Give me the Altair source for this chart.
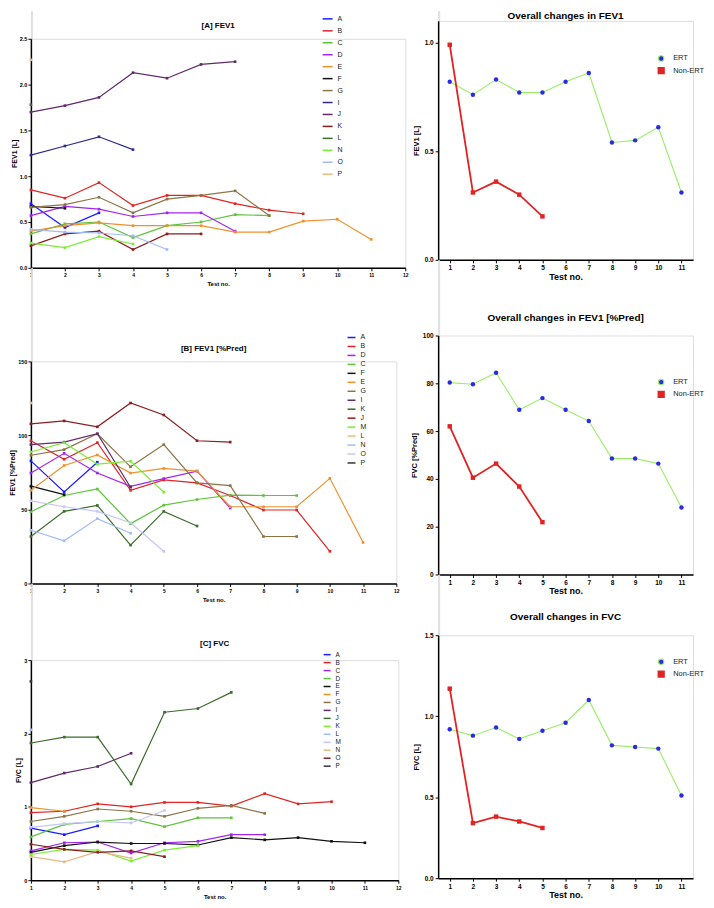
import altair as alt
import pandas as pd

FONT = "Liberation Sans"

# ---------------- colours ----------------
BLUE = "#1a1aff"; RED = "#e02424"; VIOLET = "#a224f0"; GREEN = "#5dc43c"
ORANGE = "#f0912c"; BLACK = "#111111"; BROWN = "#8e7344"; NAVY = "#2c2c8e"
DPURPLE = "#5f2b68"; DRED = "#8c1d1d"; DGREEN = "#3b6c2b"; BGREEN = "#7aee35"
LBLUE = "#9fbcf6"; LAVENDER = "#c6c6fb"; TAN = "#e8b983"; DGRAY = "#333333"
ERT_LINE = "#99ee66"; ERT_DOT = "#2a2ae6"

# ---------------- [A] FEV1 [L] ----------------
A_order = ["A", "B", "C", "D", "E", "F", "G", "I", "J", "K", "L", "N", "O", "P"]
A_colors = [BLUE, RED, GREEN, VIOLET, ORANGE, BLACK, BROWN, NAVY, DPURPLE, DRED, DGREEN, BGREEN, LBLUE, TAN]
A_vals = {
    "A": [0.70, 0.44, 0.60],
    "B": [0.85, 0.76, 0.93, 0.68, 0.79, 0.79, 0.70, 0.63, 0.59],
    "C": [0.37, 0.48, 0.50, 0.33, 0.46, 0.50, 0.58, 0.57],
    "D": [0.57, 0.67, 0.64, 0.56, 0.60, 0.60, 0.40],
    "E": [0.40, 0.46, 0.49, 0.46, 0.46, 0.46, 0.39, 0.39, 0.51, 0.53, 0.31],
    "F": [0.67, 0.65],
    "G": [0.66, 0.69, 0.77, 0.60, 0.75, 0.79, 0.84, 0.57],
    "I": [1.23, 1.33, 1.43, 1.29],
    "J": [1.70, 1.77, 1.86, 2.13, 2.07, 2.22, 2.25],
    "K": [0.24, 0.37, 0.40, 0.20, 0.37, 0.37],
    "L": [1.78],
    "N": [0.27, 0.22, 0.34, 0.26],
    "O": [0.42, 0.39, 0.38, 0.35, 0.20],
    "P": [2.27],
}

# ---------------- [B] FEV1 [%Pred] ----------------
B_order = ["A", "B", "D", "C", "F", "E", "G", "I", "K", "J", "M", "L", "N", "O", "P"]
B_colors = [BLUE, RED, VIOLET, GREEN, BLACK, ORANGE, BROWN, DPURPLE, DGREEN, DRED, BGREEN, TAN, LBLUE, LAVENDER, DGRAY]
B_vals = {
    "A": [82.8, 61.8, 81.9],
    "B": [96.4, 83.9, 95.1, 62.9, 69.9, 67.9, 59.4, 49.6, 49.6, 21.7],
    "D": [74.6, 87.9, 74.6, 65.6, 70.8, 75.9, 50.9],
    "C": [48.4, 59.4, 63.8, 40.4, 52.9, 56.7, 59.6, 59.4, 59.4],
    "F": [65.7, 60.0],
    "E": [62.9, 79.7, 86.8, 74.6, 77.7, 75.9, 51.8, 51.8, 51.8, 71.0, 27.7],
    "G": [86.6, 90.4, 101.1, 78.8, 93.8, 67.9, 66.1, 31.7, 31.7],
    "I": [93.8, 95.5, 101.1, 65.0],
    "K": [31.7, 48.7, 52.7, 25.9, 48.7, 38.8],
    "J": [107.8, 109.8, 105.8, 121.9, 113.8, 96.4, 95.5],
    "M": [88.8, 95.1, 80.6, 82.6, 61.6],
    "L": [121.9],
    "N": [35.9, 28.8, 43.8, 33.9],
    "O": [55.8, 51.8, 48.7, 41.0, 21.7],
    "P": [],
}

# ---------------- [C] FVC [L] ----------------
C_order = ["A", "B", "C", "D", "E", "F", "G", "I", "J", "K", "L", "M", "N", "O", "P"]
C_colors = [BLUE, RED, VIOLET, GREEN, BLACK, ORANGE, BROWN, DPURPLE, DGREEN, BGREEN, LBLUE, LAVENDER, TAN, DRED, DGRAY]
C_vals = {
    "A": [0.71, 0.62, 0.74],
    "B": [0.92, 0.94, 1.04, 1.00, 1.06, 1.06, 1.01, 1.18, 1.04, 1.07],
    "C": [0.40, 0.51, 0.52, 0.37, 0.51, 0.53, 0.62, 0.62],
    "D": [0.59, 0.76, 0.80, 0.84, 0.73, 0.85, 0.85],
    "E": [0.38, 0.47, 0.52, 0.50, 0.50, 0.48, 0.58, 0.55, 0.58, 0.53, 0.51],
    "F": [0.99, 0.94],
    "G": [0.80, 0.87, 0.97, 0.94, 0.87, 0.98, 1.02, 0.91],
    "I": [1.33, 1.46, 1.55, 1.73],
    "J": [1.87, 1.95, 1.95, 1.31, 2.29, 2.34, 2.56],
    "K": [0.35, 0.42, 0.41, 0.26, 0.41, 0.47],
    "L": [2.05],
    "M": [0.72, 0.77, 0.80, 0.78, 0.95],
    "N": [0.32, 0.25, 0.39, 0.30],
    "O": [0.49, 0.42, 0.38, 0.40, 0.32],
    "P": [2.71],
}

# ---------------- overall changes ----------------
groups = ["ERT", "Non-ERT"]
fev1_ert = [0.82, 0.76, 0.83, 0.77, 0.77, 0.82, 0.86, 0.54, 0.55, 0.61, 0.31]
fev1_non = [0.99, 0.31, 0.36, 0.30, 0.20]
pred_ert = [80.3, 79.6, 84.4, 68.9, 73.8, 68.9, 64.2, 48.5, 48.5, 46.4, 28.0]
pred_non = [62.0, 40.5, 46.4, 36.8, 21.9]
fvc_ert = [0.92, 0.88, 0.93, 0.86, 0.91, 0.96, 1.10, 0.82, 0.81, 0.80, 0.51]
fvc_non = [1.17, 0.34, 0.38, 0.35, 0.31]


def spacer(h, w=1):
    return alt.Chart(pd.DataFrame({"s": [0]})).mark_point(opacity=0, size=1).encode(
        x=alt.value(0), y=alt.value(0)
    ).properties(width=w, height=h)


def left_panel(vals, order, colors, title, ytitle, ydom, yticks, yfmt, w, h,
               lx, ly, rowpad, symsize, labsize, toff):
    rows = [{"series": s, "test": i + 1, "value": v}
            for s in order for i, v in enumerate(vals.get(s, []))]
    df = pd.DataFrame(rows)
    legend = alt.Legend(title=None, orient="none", legendX=lx, legendY=ly,
                        symbolType="stroke", symbolSize=symsize, symbolStrokeWidth=1.5,
                        labelFontSize=labsize, labelFont=FONT, labelColor="#222222",
                        rowPadding=rowpad, labelOffset=4, padding=0)
    color = alt.Color("series:N", scale=alt.Scale(domain=order, range=colors),
                      legend=legend, sort=order)
    x = alt.X("test:Q", scale=alt.Scale(domain=[1, 12], nice=False, zero=False),
              axis=alt.Axis(values=list(range(1, 13)), format="d", title="Test no.",
                            titleFontSize=6, titleFont=FONT, titleFontWeight="bold",
                            labelFontSize=5, labelFont=FONT, labelFontWeight="bold",
                            tickSize=3, titlePadding=3, labelPadding=2,
                            domainColor="black", tickColor="black", domainWidth=1.5,
                            grid=False, labelColor="black", titleColor="black",
                            labelFlush=False))
    y = alt.Y("value:Q", scale=alt.Scale(domain=ydom, nice=False, zero=True),
              axis=alt.Axis(values=yticks, format=yfmt, title=ytitle,
                            titleFontSize=7, titleFont=FONT, titleFontWeight="bold",
                            labelFontSize=5.5, labelFont=FONT, labelFontWeight="bold",
                            tickSize=3, titlePadding=2, labelPadding=1,
                            domainColor="black", tickColor="black", domainWidth=1.5,
                            grid=False, labelColor="black", titleColor="black",
                            labelFlush=False))
    base = alt.Chart(df).encode(x=x, y=y, color=color, order="test:Q")
    lines = base.mark_line(strokeWidth=1.2)
    pts = base.mark_point(filled=True, shape="square", size=7, opacity=1)
    return alt.layer(lines, pts).properties(
        width=w, height=h,
        title=alt.TitleParams(title, fontSize=8, font=FONT, fontWeight="bold",
                              anchor="middle", offset=toff, color="black", frame="group"))


def right_panel(ert, non, title, ytitle, ydom, yticks, yfmt, w, h, lx, ly, toff):
    rows = [{"group": "ERT", "test": i + 1, "value": v} for i, v in enumerate(ert)]
    rows += [{"group": "Non-ERT", "test": i + 1, "value": v} for i, v in enumerate(non)]
    df = pd.DataFrame(rows)
    leg = alt.Legend(title=None, orient="none", legendX=lx, legendY=ly,
                     labelFontSize=7.5, labelFont=FONT, labelColor="#222222",
                     rowPadding=0, symbolSize=30, symbolStrokeWidth=1.5,
                     labelOffset=8, padding=0)
    x = alt.X("test:Q", scale=alt.Scale(domain=[0.5, 11.5], nice=False, zero=False),
              axis=alt.Axis(values=list(range(1, 12)), format="d", title="Test no.",
                            titleFontSize=9, titleFont=FONT, titleFontWeight="bold",
                            labelFontSize=6.5, labelFont=FONT, labelFontWeight="bold",
                            tickSize=3, titlePadding=1, labelPadding=2,
                            domainColor="black", tickColor="black", domainWidth=1.5,
                            grid=False, labelColor="black", titleColor="black"))
    y = alt.Y("value:Q", scale=alt.Scale(domain=ydom, nice=False, zero=True),
              axis=alt.Axis(values=yticks, format=yfmt, title=ytitle,
                            titleFontSize=7.5, titleFont=FONT, titleFontWeight="bold",
                            labelFontSize=6.5, labelFont=FONT, labelFontWeight="bold",
                            tickSize=3, titlePadding=4, labelPadding=2,
                            domainColor="black", tickColor="black", domainWidth=1.5,
                            grid=False, labelColor="black", titleColor="black",
                            labelFlush=False))
    line = alt.Chart(df).mark_line().encode(
        x=x, y=y, order="test:Q",
        stroke=alt.Stroke("group:N", scale=alt.Scale(domain=groups, range=[ERT_LINE, RED]), legend=leg),
        strokeWidth=alt.StrokeWidth("group:N", scale=alt.Scale(domain=groups, range=[1.1, 1.8]), legend=None),
    )
    pts = alt.Chart(df).mark_point(filled=True, size=20, opacity=1).encode(
        x=x, y=y,
        fill=alt.Fill("group:N", scale=alt.Scale(domain=groups, range=[ERT_DOT, RED]), legend=leg),
        shape=alt.Shape("group:N", scale=alt.Scale(domain=groups, range=["circle", "square"]), legend=leg),
    )
    return alt.layer(line, pts).properties(
        width=w, height=h,
        title=alt.TitleParams(title, fontSize=10, font=FONT, fontWeight="bold",
                              anchor="middle", offset=toff, color="black", frame="group"))


pA = left_panel(A_vals, A_order, A_colors, "[A] FEV1", "FEV1 [L]", [0, 2.5],
                [0, 0.5, 1.0, 1.5, 2.0, 2.5], ".1f", 376, 230, 292, -26, 3, 100, 7, -17)
pB = left_panel(B_vals, B_order, B_colors, "[B] FEV1 [%Pred]", "FEV1  [%Pred]", [0, 150],
                [0, 50, 100, 150], "d", 367, 223, 317, -29, 1, 64, 7, -21)
pC = left_panel(C_vals, C_order, C_colors, "[C] FVC", "FVC [L]", [0, 3],
                [0, 1, 2, 3], "d", 369, 221, 293, -10, 0, 49, 6.5, 2)

r1 = right_panel(fev1_ert, fev1_non, "Overall changes in FEV1", "FEV1 [L]", [0, 1.1],
                 [0, 0.5, 1.0], ".1f", 256, 240, 220, 34, 0)
r2 = right_panel(pred_ert, pred_non, "Overall changes in FEV1 [%Pred]", "FVC  [%Pred]", [0, 100],
                 [0, 20, 40, 60, 80, 100], "d", 256, 240, 220, 43, 10)
r3 = right_panel(fvc_ert, fvc_non, "Overall changes in FVC", "FVC [L]", [0, 1.5],
                 [0, 0.5, 1.0, 1.5], ".1f", 256, 244, 220, 23, 10)

res = dict(color="independent", stroke="independent", fill="independent",
           shape="independent", strokeWidth="independent")

left_col = alt.vconcat(spacer(28), pA, spacer(94), pB, spacer(77), pC,
                       spacing=0, bounds="flush").resolve_scale(**res).resolve_legend(
    color="independent")
right_col = alt.vconcat(spacer(10), r1, spacer(76), r2, spacer(61), r3,
                        spacing=0, bounds="flush").resolve_scale(**res).resolve_legend(
    stroke="independent", fill="independent", shape="independent")

chart = alt.hconcat(left_col, right_col, spacing=0).resolve_scale(**res).resolve_legend(
    color="independent", stroke="independent", fill="independent", shape="independent"
).properties(padding=0).configure_view(stroke=None).configure(font=FONT)

chart.save("out.html", embed_options={"renderer": "svg", "actions": False})
